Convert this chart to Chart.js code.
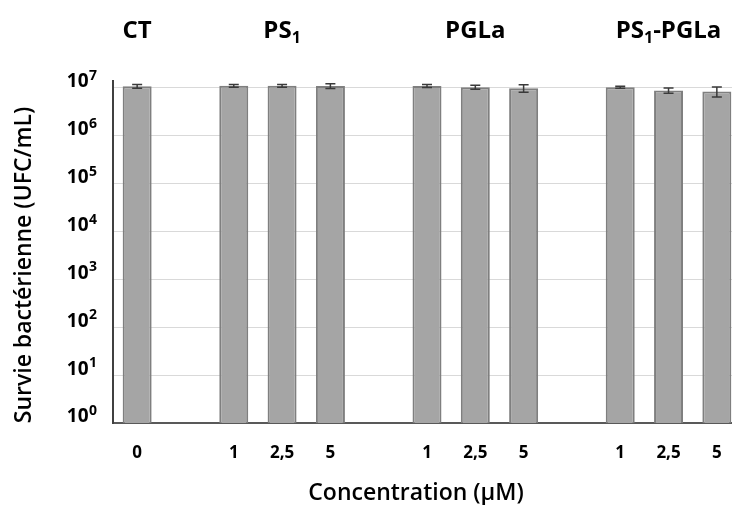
<!DOCTYPE html>
<html>
<head>
<meta charset="utf-8">
<script src="https://cdn.jsdelivr.net/npm/chart.js@4.4.1/dist/chart.umd.min.js"></script>
<style>
  html, body { margin: 0; padding: 0; background: #fff; overflow: hidden; }
  #wrap { position: relative; width: 745px; height: 505px; }
</style>
</head>
<body>
<div id="wrap"><canvas id="grafico"></canvas></div>
<script>
// Données (cases vides = séparation entre groupes)
const concentrations = ['0', '', '1', '2,5', '5', '', '1', '2,5', '5', '', '1', '2,5', '5'];
const survie = [1.09e7, null, 1.11e7, 1.11e7, 1.1e7, null, 1.1e7, 1.04e7, 9.9e6, null, 1.04e7, 8.9e6, 8.45e6];
const erreurs = [1.0e6, null, 7e5, 7e5, 1.2e6, null, 8e5, 1.0e6, 1.8e6, null, 5e5, 1.1e6, 2.0e6];
const groupes = ['CT', 'PS_1', 'PGLa', 'PS_1-PGLa'];
const groupesIdx = [0, 3, 7, 11];
const exposants = [0, 1, 2, 3, 4, 5, 6, 7];
const yMax = 1.4e7;

const police = '"Open Sans", "DejaVu Sans", sans-serif';

// texte avec indice (ex: PS_1)
function texteIndice(ctx, txt, xc, y, taille) {
  const parts = txt.split(/_(\d)/);
  const fonts = parts.map((p, i) => i % 2 ? `bold ${Math.round(taille * 0.68)}px ${police}` : `bold ${taille}px ${police}`);
  let w = 0;
  parts.forEach((p, i) => { ctx.font = fonts[i]; w += ctx.measureText(p).width; });
  let x = xc - w / 2;
  parts.forEach((p, i) => {
    ctx.font = fonts[i];
    ctx.fillText(p, x, i % 2 ? y + taille * 0.32 : y);
    x += ctx.measureText(p).width;
  });
}

const barresErreur = {
  id: 'barresErreur',
  afterDatasetsDraw(chart) {
    const ctx = chart.ctx;
    const y = chart.scales.y;
    const meta = chart.getDatasetMeta(0);
    ctx.save();
    ctx.strokeStyle = '#3a3a3a';
    ctx.lineWidth = 1.5;
    survie.forEach((v, i) => {
      if (v == null) return;
      const x = meta.data[i].x;
      const yh = y.getPixelForValue(v + erreurs[i]);
      const yb = y.getPixelForValue(v - erreurs[i]);
      ctx.beginPath();
      ctx.moveTo(x, yh); ctx.lineTo(x, yb);
      ctx.moveTo(x - 5, yh); ctx.lineTo(x + 5, yh);
      ctx.moveTo(x - 5, yb); ctx.lineTo(x + 5, yb);
      ctx.stroke();
    });
    ctx.restore();
  }
};

const textes = {
  id: 'textes',
  afterDraw(chart) {
    const ctx = chart.ctx;
    const xs = chart.scales.x, ys = chart.scales.y;
    const area = chart.chartArea;
    ctx.save();
    ctx.fillStyle = '#000';
    ctx.textBaseline = 'middle';

    // titres des groupes
    groupes.forEach((g, k) => {
      texteIndice(ctx, g, xs.getPixelForValue(groupesIdx[k]), 31, 24);
    });

    // étiquettes de l'axe y : 10^n
    exposants.forEach(e => {
      const yp = ys.getPixelForValue(Math.pow(10, e)) - 6;
      const droite = area.left - 16;
      ctx.font = `bold 14px ${police}`;
      const we = ctx.measureText(String(e)).width;
      ctx.textAlign = 'left';
      ctx.fillText(String(e), droite - we, yp - 6);
      ctx.font = `bold 19px ${police}`;
      ctx.textAlign = 'right';
      ctx.fillText('10', droite - we - 0.5, yp);
    });

    // étiquettes de l'axe x
    ctx.textAlign = 'center';
    ctx.font = `bold 17px ${police}`;
    concentrations.forEach((c, i) => {
      if (c) ctx.fillText(c, xs.getPixelForValue(i), 453);
    });

    // titre axe x
    ctx.font = `600 23px ${police}`;
    ctx.fillText('Concentration (µM)', 416, 493);

    // titre axe y
    ctx.translate(24, 265);
    ctx.rotate(-Math.PI / 2);
    ctx.font = `600 23px ${police}`;
    ctx.fillText('Survie bactérienne (UFC/mL)', 0, 0);
    ctx.restore();
  }
};

new Chart(document.getElementById('grafico'), {
  type: 'bar',
  data: {
    labels: concentrations,
    datasets: [{
      data: survie,
      backgroundColor: '#a5a5a5',
      borderColor: '#7f7f7f',
      borderWidth: 2,
      barPercentage: 0.6,
      categoryPercentage: 1
    }]
  },
  options: {
    responsive: true,
    maintainAspectRatio: false,
    animation: false,
    layout: { padding: { left: 113, top: 81, right: 4, bottom: 82 } },
    plugins: { legend: { display: false }, tooltip: { enabled: false } },
    scales: {
      x: {
        grid: { display: false, drawTicks: false },
        ticks: { display: false },
        border: { color: '#595959', width: 2 }
      },
      y: {
        type: 'logarithmic',
        min: 1,
        max: yMax,
        grid: { color: '#d9d9d9', lineWidth: 1, drawTicks: false },
        ticks: { display: false },
        border: { color: '#404040', width: 2 },
        afterBuildTicks: s => { s.ticks = exposants.map(e => ({ value: Math.pow(10, e) })); }
      }
    }
  },
  plugins: [barresErreur, textes]
});
</script>
</body>
</html>
